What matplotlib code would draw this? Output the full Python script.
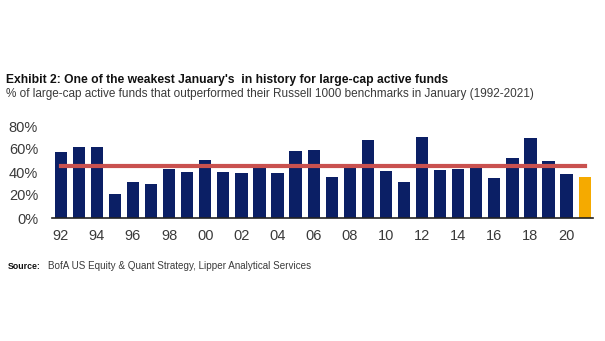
import matplotlib
matplotlib.use('Agg')
import matplotlib.pyplot as plt
import numpy as np

# data
years = ['92', '93', '94', '95', '96', '97', '98', '99', '00', '01',
         '02', '03', '04', '05', '06', '07', '08', '09', '10', '11',
         '12', '13', '14', '15', '16', '17', '18', '19', '20', '21']
pct_outperf = [57, 61.5, 61.5, 20.5, 31, 29.5, 42.5, 40, 50.5, 40,
               39, 45.5, 39, 58.5, 59.5, 35.5, 45, 67.5, 40.5, 31,
               70.5, 41.5, 42.5, 43.5, 34.5, 52.5, 69.5, 49.5, 38, 35.5]
avg_line = 45.5
tick_years = years[::2][:15]
y_ticks = [0, 20, 40, 60, 80]
y_labels = ['0%', '20%', '40%', '60%', '80%']

navy = '#0b1f65'
orange = '#f5aa00'
red = '#c9514f'

plt.rcParams['font.family'] = ['Liberation Sans', 'DejaVu Sans']

W, H = 605, 341
fig = plt.figure(figsize=(6.05, 3.41), dpi=100)
ax = fig.add_axes([52 / W, 1 - 218 / H, 541 / W, 92 / H])

x = np.arange(len(years))
colors = [navy] * (len(years) - 1) + [orange]
ax.bar(x, pct_outperf, width=0.68, color=colors, zorder=2)
ax.plot([x[0], x[-1]], [avg_line, avg_line], color=red, lw=3, zorder=3)

ax.set_xlim(-0.48, 29.46)
ax.set_ylim(0, 80)
ax.set_yticks(y_ticks)
ax.set_yticklabels(y_labels, fontsize=10.5, color='#3a3a3a')
ax.set_xticks(x[::2])
ax.set_xticklabels(tick_years, fontsize=10.5, color='#3a3a3a')
ax.tick_params(axis='x', length=0, pad=8)
ax.tick_params(axis='y', length=0, pad=10)
for s in ['top', 'right', 'left']:
    ax.spines[s].set_visible(False)
ax.spines['bottom'].set_color('#222222')
ax.spines['bottom'].set_linewidth(1.2)


# size a text so it spans roughly the same width as in the reference
def fit_text(x0, y0, s, width_px, **kw):
    t = fig.text(x0 / W, 1 - y0 / H, s, va='baseline', **kw)
    r = fig.canvas.get_renderer()
    w = t.get_window_extent(r).width
    t.set_fontsize(t.get_fontsize() * width_px / w)
    return t


fit_text(6, 83, "Exhibit 2: One of the weakest January's  in history for large-cap active funds",
         440, fontsize=10, fontweight='bold', color='#111111')
fit_text(6, 97, "% of large-cap active funds that outperformed their Russell 1000 benchmarks in January (1992-2021)",
         530, fontsize=10, color='#3a3a3a')
fit_text(8, 269, "Source:", 33, fontsize=7, fontweight='bold', color='#111111')
fit_text(48, 269, "BofA US Equity & Quant Strategy, Lipper Analytical Services",
         265, fontsize=7, color='#3a3a3a')

fig.savefig('out.png', dpi=100)
